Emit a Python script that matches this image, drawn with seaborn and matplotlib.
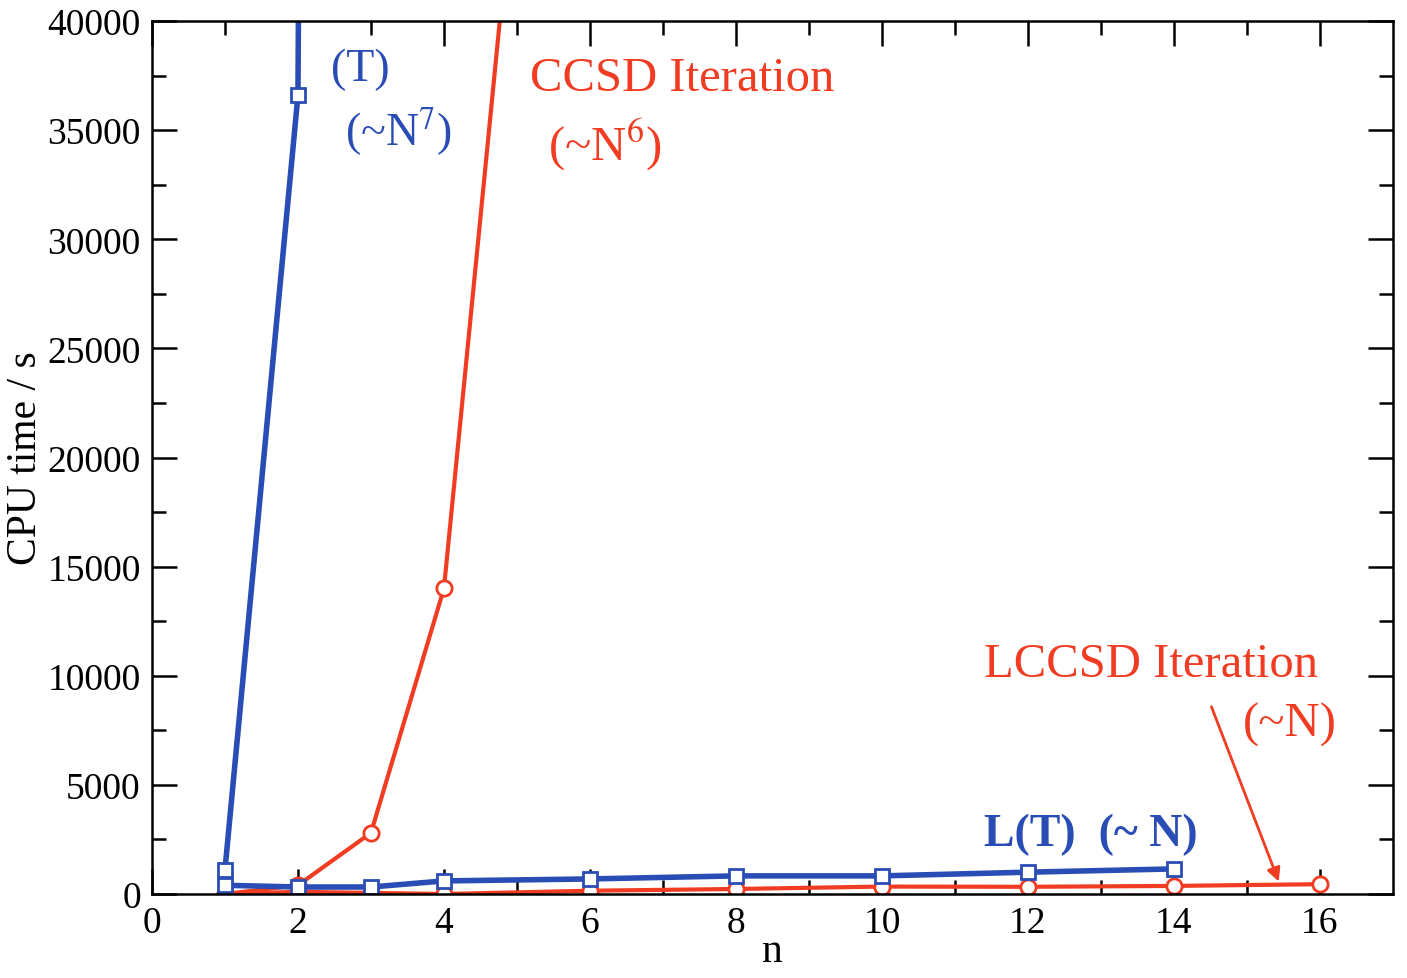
import matplotlib
matplotlib.use('Agg')
import matplotlib.pyplot as plt
import seaborn as sns
import pandas as pd

# 데이터
n_t = [1, 2, 3]
cpu_t = [1100, 36600, 600000]          # (T) ~N^7

n_ccsd = [1, 2, 3, 4, 6]
cpu_ccsd = [0, 400, 2800, 14000, 82000]  # CCSD Iteration ~N^6

n_lt = [1, 2, 3, 4, 6, 8, 10, 12, 14]
cpu_lt = [400, 320, 320, 600, 690, 830, 830, 1000, 1150]   # L(T) ~N

n_lccsd = [1, 2, 3, 4, 6, 8, 10, 12, 14, 16]
cpu_lccsd = [0, 100, 50, 0, 150, 230, 340, 330, 370, 450]  # LCCSD Iteration ~N

blue = '#2a4db5'
red = '#f03c22'

sns.set_style('ticks')
plt.rcParams['font.family'] = ['Liberation Serif', 'DejaVu Serif']
plt.rcParams['mathtext.fontset'] = 'stix'
plt.rcParams['text.color'] = 'black'
plt.rcParams['axes.labelcolor'] = 'black'
plt.rcParams['xtick.color'] = 'black'
plt.rcParams['ytick.color'] = 'black'
plt.rcParams['axes.edgecolor'] = 'black'

fig = plt.figure(figsize=(14.07, 9.79), dpi=100)
ax = fig.add_axes([0.108, 0.0858, 0.882, 0.8917])

df_t = pd.DataFrame({'n': n_t, 'cpu': cpu_t})
df_ccsd = pd.DataFrame({'n': n_ccsd, 'cpu': cpu_ccsd})
df_lt = pd.DataFrame({'n': n_lt, 'cpu': cpu_lt})
df_lccsd = pd.DataFrame({'n': n_lccsd, 'cpu': cpu_lccsd})

sns.lineplot(data=df_lccsd, x='n', y='cpu', ax=ax, color=red, lw=3, marker='o',
             markersize=11, markerfacecolor='white', markeredgecolor=red, markeredgewidth=2)
sns.lineplot(data=df_ccsd, x='n', y='cpu', ax=ax, color=red, lw=3, marker='o',
             markersize=11, markerfacecolor='white', markeredgecolor=red, markeredgewidth=2)
sns.lineplot(data=df_lt, x='n', y='cpu', ax=ax, color=blue, lw=4, marker='s',
             markersize=10, markerfacecolor='white', markeredgecolor=blue, markeredgewidth=2)
sns.lineplot(data=df_t, x='n', y='cpu', ax=ax, color=blue, lw=4, marker='s',
             markersize=10, markerfacecolor='white', markeredgecolor=blue, markeredgewidth=2)

ax.set_xlim(0, 17)
ax.set_ylim(0, 40000)
ax.set_xticks(range(0, 17, 2))
ax.set_xticks(range(1, 17, 2), minor=True)
ax.set_yticks(range(0, 40001, 5000))
ax.set_yticks(range(2500, 40000, 5000), minor=True)
ax.tick_params(which='both', direction='in', top=True, right=True, labelsize=27, width=1.8)
ax.tick_params(which='major', length=18, pad=8)
ax.tick_params(which='minor', length=10)
for s in ax.spines.values():
    s.set_linewidth(1.8)

ax.set_xlabel('n', fontsize=30, labelpad=-6)
ax.set_ylabel('CPU time / s', fontsize=30, labelpad=2)

# 주석 텍스트
ax.text(2.45, 37800, '(T)', color=blue, fontsize=33, va='center')
ax.text(2.65, 35000, r'(~N$^7$)', color=blue, fontsize=33, va='center')
ax.text(5.18, 37400, 'CCSD Iteration', color=red, fontsize=35, va='center')
ax.text(5.42, 34400, r'(~N$^6$)', color=red, fontsize=35, va='center')
ax.text(11.4, 10550, 'LCCSD Iteration', color=red, fontsize=35, va='center')
ax.text(14.95, 7800, '(~N)', color=red, fontsize=35, va='center')
ax.text(11.4, 2750, 'L(T)  (~ N)', color=blue, fontsize=33, va='center', fontweight='bold')
ax.annotate('', xy=(15.45, 450), xytext=(14.5, 8700),
            arrowprops=dict(arrowstyle='-|>', color=red, lw=2, mutation_scale=20))

fig.savefig('out.png', dpi=100)
